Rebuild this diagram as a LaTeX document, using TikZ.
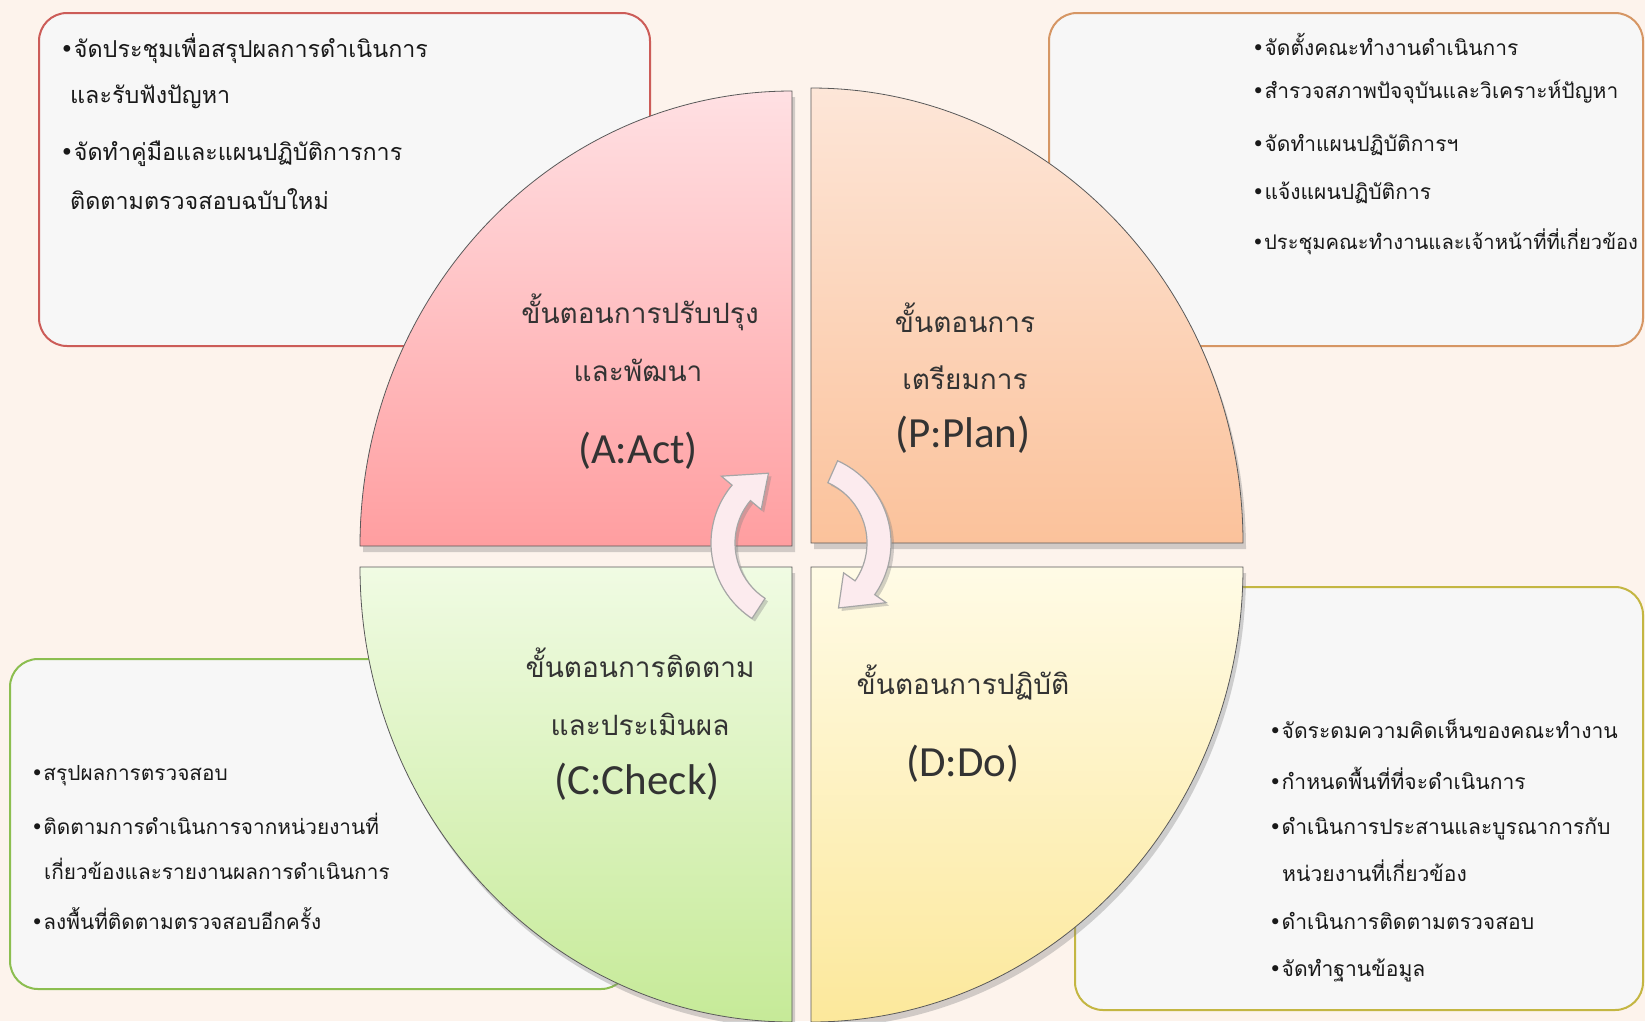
\documentclass[tikz,border=0pt]{standalone}
\usepackage{fontspec}
\usepackage{xcolor}
\usepackage{tikz}
\usetikzlibrary{shadows}
\newfontfamily\thaifont[Script=Thai]{Loma}
\newfontfamily\latinfont{Carlito}
\newfontfamily\dotfont{DejaVu Sans}
\newcommand{\itm}{{\dotfont •}}
\definecolor{bgcream}{RGB}{253,243,236}
\definecolor{actline}{RGB}{204,92,88}
\definecolor{planline}{RGB}{214,150,100}
\definecolor{checkline}{RGB}{140,190,80}
\definecolor{doline}{RGB}{196,182,66}
\definecolor{acttop}{RGB}{255,224,227}
\definecolor{actbot}{RGB}{255,158,160}
\definecolor{plantop}{RGB}{253,230,216}
\definecolor{planbot}{RGB}{251,194,155}
\definecolor{checktop}{RGB}{240,251,227}
\definecolor{checkbot}{RGB}{198,234,152}
\definecolor{dotop}{RGB}{255,251,230}
\definecolor{dobot}{RGB}{252,232,155}
\definecolor{arrowfill}{RGB}{252,235,238}
\tikzset{
  box/.style={rounded corners=28pt, line width=2, fill=white!97!black},
  quad/.style={draw=gray!70!black, line width=0.8,
    drop shadow={shadow xshift=3pt, shadow yshift=-6pt, opacity=0.35, fill=gray}},
  item/.style={anchor=west, inner sep=0pt, font=\thaifont\fontsize{#1}{#1}\selectfont, text=black!90},
  item/.default=22,
  stagetext/.style={inner sep=0pt, font=\thaifont\fontsize{28}{32}\selectfont, text=black!80},
  stagecode/.style={inner sep=0pt, font=\latinfont\fontsize{43}{47}\selectfont, text=black!80},
  cyclearrow/.style={fill=arrowfill, draw=gray!70, line width=1.2,
    drop shadow={shadow xshift=3pt, shadow yshift=-3pt, opacity=0.35, fill=gray}}
}
\begin{document}
\begin{tikzpicture}[x=1pt, y=-1pt]
\fill[bgcream] (0,0) rectangle (1645,1021);
\useasboundingbox (0,0) rectangle (1645,1021);
% boxes behind the circle
\draw[box, draw=actline] (39,13) rectangle (650,346);
\draw[box, draw=planline] (1049,13) rectangle (1643,346);
\draw[box, draw=checkline] (10,659) rectangle (629,989);
\draw[box, draw=doline] (1075,587) rectangle (1643,1010);
% four quarters of the circle
\path[quad, top color=acttop, bottom color=actbot]
  (792,546) -- (360,546) arc[start angle=180, end angle=270, x radius=432, y radius=455] -- cycle;
\path[quad, top color=plantop, bottom color=planbot]
  (811,543) -- (811,88) arc[start angle=270, end angle=360, x radius=432, y radius=455] -- cycle;
\path[quad, top color=checktop, bottom color=checkbot]
  (792,567) -- (360,567) arc[start angle=180, end angle=90, x radius=432, y radius=455] -- cycle;
\path[quad, top color=dotop, bottom color=dobot]
  (811,567) -- (1243,567) arc[start angle=0, end angle=90, x radius=432, y radius=455] -- cycle;
% cycle arrows
\begin{scope}[shift={(801,543)}]
\path[cyclearrow] (123:90) arc[start angle=123, end angle=220, radius=90] -- (220:104) -- (245:77)
  -- (220:52) -- (220:66) arc[start angle=220, end angle=123, radius=66] -- cycle;
\path[cyclearrow] (-66:90) arc[start angle=-66, end angle=35, radius=90] -- (35:104) -- (60:75)
  -- (35:52) -- (35:66) arc[start angle=35, end angle=-66, radius=66] -- cycle;
\end{scope}
% stage names
\node[stagetext] (act1) at (640,312) {ขั้นตอนการปรับปรุง};
\node[stagetext] (act2) at (638,370) {และพัฒนา};
\node[stagecode] (act3) at (638,451) {(A:Act)};
\node[stagetext] (plan1) at (965,318) {ขั้นตอนการ};
\node[stagetext] (plan2) at (965,378) {เตรียมการ};
\node[stagecode] (plan3) at (963,435) {(P:Plan)};
\node[stagetext] (check1) at (640,663) {ขั้นตอนการติดตาม};
\node[stagetext] (check2) at (640,724) {และประเมินผล};
\node[stagecode] (check3) at (637,782) {(C:Check)};
\node[stagetext] (do1) at (963,682) {ขั้นตอนการปฏิบัติ};
\node[stagecode] (do2) at (963,764) {(D:Do)};
% act box
\node[item=23.3] (actA) at (60,49) {\itm จัดประชุมเพื่อสรุปผลการดำเนินการ};
\node[item=23.3] (actB) at (70,97) {และรับฟังปัญหา};
\node[item=23.3] (actC) at (60,154) {\itm จัดทำคู่มือและแผนปฏิบัติการการ};
\node[item=23.3] (actD) at (70,199) {ติดตามตรวจสอบฉบับใหม่};
% plan box
\node[item=21] (planA) at (1252,44) {\itm จัดตั้งคณะทำงานดำเนินการ};
\node[item=21] (planB) at (1252,92) {\itm สำรวจสภาพปัจจุบันและวิเคราะห์ปัญหา};
\node[item=21] (planC) at (1252,145) {\itm จัดทำแผนปฏิบัติการฯ};
\node[item=21] (planD) at (1252,193) {\itm แจ้งแผนปฏิบัติการ};
\node[item=20.2] (planE) at (1252,242) {\itm ประชุมคณะทำงานและเจ้าหน้าที่ที่เกี่ยวข้อง};
% check box
\node[item=20.8] (checkA) at (31,776) {\itm สรุปผลการตรวจสอบ};
\node[item=20.8] (checkB) at (31,824) {\itm ติดตามการดำเนินการจากหน่วยงานที่};
\node[item=20.8] (checkC) at (44,869) {เกี่ยวข้องและรายงานผลการดำเนินการ};
\node[item=20.8] (checkD) at (31,919) {\itm ลงพื้นที่ติดตามตรวจสอบอีกครั้ง};
% do box
\node[item=21.1] (doA) at (1269,729) {\itm จัดระดมความคิดเห็นของคณะทำงาน};
\node[item=21.1] (doB) at (1269,778) {\itm กำหนดพื้นที่ที่จะดำเนินการ};
\node[item=21.1] (doC) at (1269,829) {\itm ดำเนินการประสานและบูรณาการกับ};
\node[item=21.1] (doD) at (1282,871) {หน่วยงานที่เกี่ยวข้อง};
\node[item=21.1] (doE) at (1269,921) {\itm ดำเนินการติดตามตรวจสอบ};
\node[item=21.1] (doF) at (1269,970) {\itm จัดทำฐานข้อมูล};
\end{tikzpicture}
\end{document}
